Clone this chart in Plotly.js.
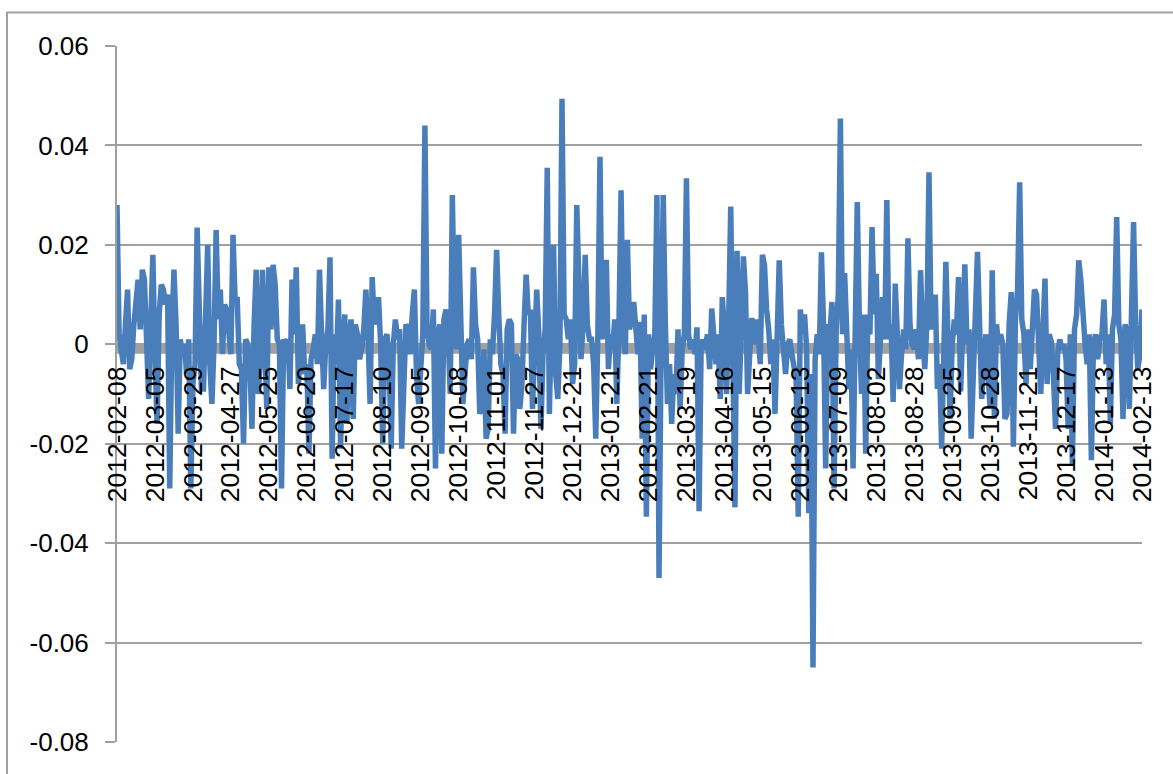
<!DOCTYPE html>
<html>
<head>
<meta charset="utf-8">
<script src="https://cdn.plot.ly/plotly-3.0.1.min.js"></script>
<style>
  html, body { margin: 0; padding: 0; background: #ffffff; overflow: hidden; }
  #chart { width: 1173px; height: 774px; }
</style>
</head>
<body>
<div id="chart"></div>
<script>
// Category tick labels (every 18th trading day)
const tickLabels = [
  "2012-02-08","2012-03-05","2012-03-29","2012-04-27","2012-05-25","2012-06-20","2012-07-17",
  "2012-08-10","2012-09-05","2012-10-08","2012-11-01","2012-11-27","2012-12-21","2013-01-21",
  "2013-02-21","2013-03-19","2013-04-16","2013-05-15","2013-06-13","2013-07-09","2013-08-02",
  "2013-08-28","2013-09-25","2013-10-28","2013-11-21","2013-12-17","2014-01-13","2014-02-13"
];
const labelStep = 18;

// Daily returns (487 trading days)
const dailyReturn = [
  0.028, 0.002, -0.001, -0.004, 0.004, 0.011, -0.005, -0.003, 0.004, 0.009, 0.013, 0.003, 0.015, 0.013, 0.003, -0.011, 0.004, 0.018,
  -0.002, -0.016, 0.006, 0.012, 0.011, 0.008, 0.010, -0.029, 0.002, 0.015, 0.004, -0.018, 0.001, -0.002, 0.000, -0.006, 0.001, -0.029,
  -0.008, -0.004, 0.0235, 0.004, -0.009, -0.009, 0.002, 0.020, -0.004, -0.012, 0.000, 0.023, 0.005, 0.011, -0.002, 0.008, 0.007, 0.001,
  -0.002, 0.022, 0.009, 0.009, -0.004, -0.005, -0.020, 0.001, 0.000, -0.004, -0.017, 0.004, 0.015, -0.010, -0.003, 0.015, 0.002, -0.013,
  0.0155, 0.003, 0.016, 0.012, 0.001, 0.000, -0.029, 0.001, 0.000, 0.001, -0.009, 0.013, 0.002, 0.0155, -0.008, -0.002, 0.004, -0.006,
  -0.004, -0.022, -0.003, -0.001, 0.002, -0.004, 0.015, 0.002, -0.009, 0.000, 0.003, 0.0175, -0.023, 0.002, -0.004, 0.009, -0.021, 0.000,
  0.006, -0.016, 0.001, 0.005, -0.015, 0.004, 0.002, -0.003, -0.001, 0.003, 0.011, 0.002, -0.012, 0.0135, 0.004, 0.006, 0.0095, 0.000,
  -0.020, 0.001, 0.002, -0.003, -0.021, 0.000, 0.005, 0.001, 0.003, -0.021, -0.008, 0.004, 0.003, -0.002, 0.006, 0.011, -0.006, -0.012,
  -0.005, 0.002, 0.044, 0.003, 0.000, -0.001, 0.007, -0.025, 0.001, 0.004, -0.022, 0.005, 0.007, 0.002, -0.010, 0.030, 0.005, -0.001,
  0.022, 0.004, -0.012, -0.006, 0.000, 0.001, -0.003, 0.0155, 0.004, 0.001, -0.014, -0.012, -0.001, -0.019, -0.017, 0.001, -0.002, 0.006,
  0.019, 0.006, -0.004, -0.006, -0.018, 0.003, 0.005, 0.004, -0.018, -0.002, -0.003, -0.013, -0.008, 0.004, 0.014, 0.006, 0.007, -0.013,
  0.004, 0.011, 0.002, -0.017, -0.002, 0.003, 0.0355, -0.014, 0.006, 0.020, -0.006, -0.011, 0.000, 0.0494, 0.006, 0.005, 0.001, 0.005,
  -0.008, -0.004, 0.028, 0.006, -0.003, 0.004, 0.018, 0.004, 0.001, 0.001, -0.004, -0.019, 0.002, 0.0377, 0.001, 0.005, 0.017, -0.005,
  0.002, -0.001, 0.005, -0.012, 0.004, 0.031, 0.002, -0.002, 0.021, 0.003, 0.005, 0.0085, 0.004, -0.002, 0.0045, -0.019, 0.006, -0.0347,
  0.002, -0.005, -0.001, 0.002, 0.030, -0.047, 0.000, 0.030, 0.004, -0.012, -0.004, -0.016, -0.006, -0.010, 0.003, -0.013, -0.001, 0.002,
  0.0334, 0.002, -0.001, 0.001, -0.002, 0.0034, -0.0336, 0.001, -0.001, 0.000, 0.002, -0.005, 0.0072, 0.001, -0.004, 0.002, -0.011, 0.0095,
  0.003, -0.010, 0.004, 0.0277, -0.012, -0.0328, 0.0188, -0.010, 0.003, 0.0177, 0.0105, -0.010, -0.002, 0.0053, 0.000, 0.005, 0.002, -0.004,
  0.018, 0.016, 0.007, 0.003, -0.004, 0.001, -0.014, 0.006, 0.0169, 0.004, 0.000, -0.006, 0.000, 0.001, -0.002, -0.004, -0.007, -0.0347,
  0.007, 0.002, 0.006, -0.001, -0.034, -0.006, -0.065, -0.003, 0.002, -0.002, 0.0185, 0.004, -0.025, 0.004, 0.002, 0.0085, -0.029, 0.003,
  0.010, 0.0454, 0.002, 0.0143, 0.003, -0.009, -0.001, -0.025, 0.002, 0.0286, 0.004, -0.010, 0.006, -0.022, 0.006, 0.002, 0.0236, 0.006,
  0.0142, -0.007, 0.001, 0.0095, 0.001, 0.029, 0.001, 0.004, -0.0116, 0.0122, 0.002, -0.009, -0.002, 0.003, -0.001, 0.0213, 0.004, 0.000,
  -0.001, 0.003, -0.003, 0.0149, 0.002, -0.005, 0.004, 0.0346, 0.003, 0.006, 0.010, -0.009, -0.004, -0.021, 0.002, 0.0166, 0.001, -0.015,
  0.000, 0.005, 0.002, 0.0135, -0.0095, 0.004, 0.0161, 0.000, 0.003, -0.019, -0.008, 0.002, 0.0186, 0.004, -0.011, -0.003, 0.002, -0.006,
  -0.013, 0.0149, -0.015, 0.004, 0.000, 0.002, 0.000, -0.015, -0.014, 0.004, 0.0105, -0.0206, 0.005, 0.011, 0.0326, 0.005, 0.002, -0.008,
  0.003, -0.005, 0.006, 0.011, 0.010, -0.004, -0.010, 0.002, 0.0132, -0.008, 0.002, 0.0005, -0.006, -0.017, -0.002, 0.001, -0.001, 0.000,
  -0.003, -0.017, 0.002, -0.024, 0.003, 0.006, 0.0169, 0.013, 0.004, 0.000, -0.004, 0.002, -0.0233, 0.000, 0.002, -0.003, 0.001, 0.002,
  0.009, -0.004, 0.002, -0.016, 0.003, 0.006, 0.0256, 0.004, 0.001, -0.015, 0.004, 0.002, -0.013, 0.003, 0.0246, 0.004, -0.005, -0.002,
  0.007
];

// Y axis ticks
const yTickVals = [-0.08, -0.06, -0.04, -0.02, 0, 0.02, 0.04, 0.06];
const yTickText = ["-0.08", "-0.06", "-0.04", "-0.02", "0", "0.02", "0.04", "0.06"];

const xIdx = dailyReturn.map((_, i) => i);
const xTickVals = tickLabels.map((_, k) => k * labelStep);

const yMin = -0.08, yMax = 0.06;
const zeroPos = (0 - yMin) / (yMax - yMin);
const gray = '#a0a0a0';
const font = "'Liberation Sans', Arial, sans-serif";

const trace = {
  x: xIdx,
  y: dailyReturn,
  type: 'scatter',
  mode: 'lines',
  line: { color: '#4a7ebb', width: 5.5, shape: 'linear' },
  hoverinfo: 'skip',
  showlegend: false
};

const layout = {
  width: 1173,
  height: 774,
  margin: { l: 117, r: 31, t: 46, b: 32, pad: 0 },
  paper_bgcolor: '#ffffff',
  plot_bgcolor: '#ffffff',
  font: { family: font, size: 26, color: '#000000' },
  showlegend: false,
  xaxis: {
    range: [0, dailyReturn.length - 1],
    anchor: 'free',
    position: zeroPos,
    tickmode: 'array',
    tickvals: xTickVals,
    ticktext: tickLabels,
    tickangle: -90,
    ticks: '',
    ticklabelstandoff: 16,
    showgrid: false,
    zeroline: false,
    showline: false,
    tickfont: { family: font, size: 26.5, color: '#000000' }
  },
  yaxis: {
    range: [yMin, yMax],
    tickmode: 'array',
    tickvals: yTickVals,
    ticktext: yTickText,
    showgrid: true,
    gridcolor: gray,
    gridwidth: 2,
    zeroline: false,
    showline: true,
    linecolor: gray,
    linewidth: 2,
    ticks: 'outside',
    ticklen: 10,
    tickwidth: 2,
    tickcolor: gray,
    ticklabelstandoff: 11,
    tickfont: { family: font, size: 26, color: '#000000' }
  },
  shapes: [
    {
      type: 'rect', xref: 'paper', yref: 'y',
      x0: 0, x1: 1, y0: 0.0002, y1: -0.0019,
      fillcolor: gray, line: { width: 0 }, layer: 'below'
    },
    {
      type: 'rect', xref: 'paper', yref: 'paper',
      x0: (7 - 117) / 1025, x1: 1.2,
      y0: -0.2, y1: 1 + (46 - 12.5) / 696,
      fillcolor: 'rgba(0,0,0,0)', line: { color: gray, width: 2 }, layer: 'below'
    }
  ]
};

Plotly.newPlot('chart', [trace], layout, { staticPlot: true, displayModeBar: false });
</script>
</body>
</html>
